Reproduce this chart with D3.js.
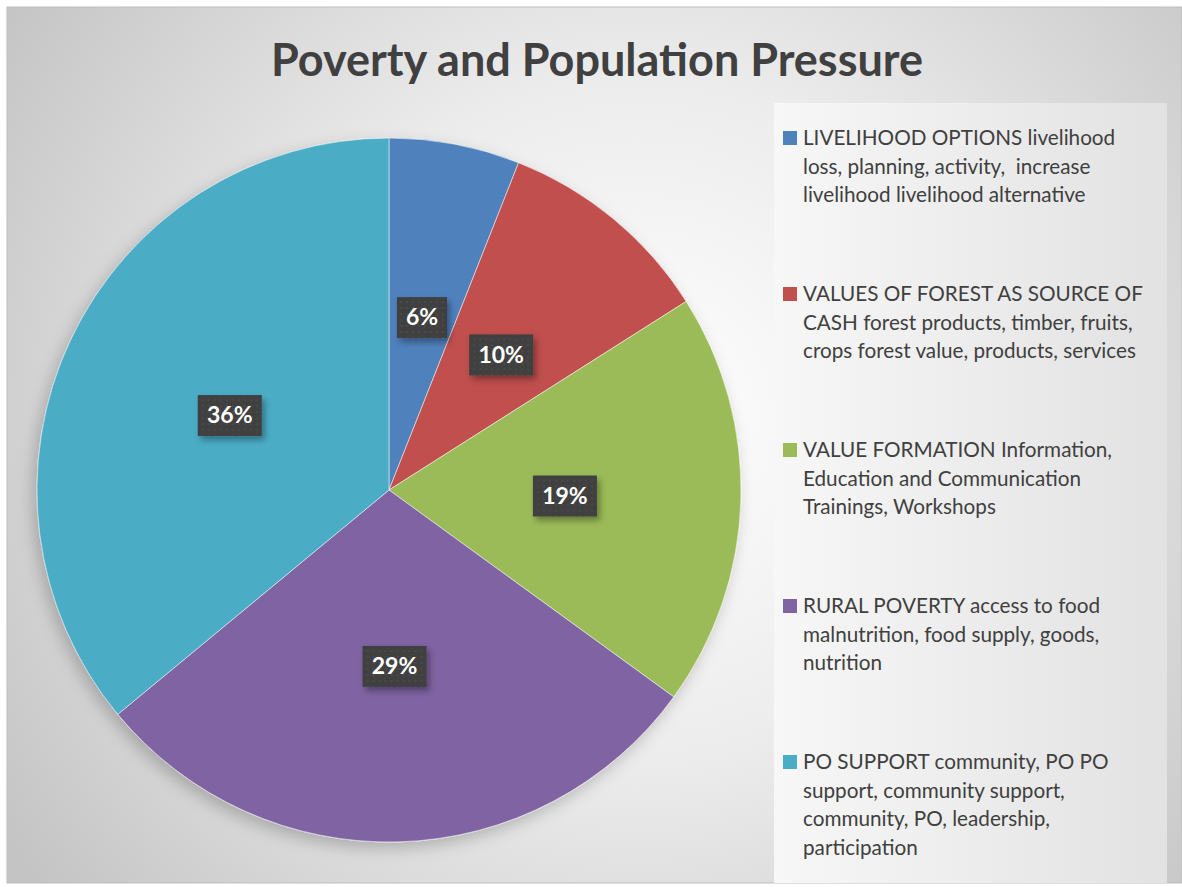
<!DOCTYPE html>
<html>
<head>
<meta charset="utf-8">
<script src="https://cdnjs.cloudflare.com/ajax/libs/d3/7.8.5/d3.min.js"></script>
<style>
  body { margin: 0; background: #fff; }
  svg text { font-family: Lato, "Open Sans", sans-serif; }
</style>
</head>
<body>
<div id="chart"></div>
<script>
// chart data
var categories = ["LIVELIHOOD OPTIONS", "VALUES OF FOREST AS SOURCE OF CASH", "VALUE FORMATION", "RURAL POVERTY", "PO SUPPORT"];
var values = [6, 10, 19, 29, 36];
var colors = ["#4F81BD", "#C0504D", "#9BBB59", "#8064A2", "#4BACC6"];
var legendLines = [
  ["LIVELIHOOD OPTIONS livelihood", "loss, planning, activity,  increase", "livelihood livelihood alternative"],
  ["VALUES OF FOREST AS SOURCE OF", "CASH forest products, timber, fruits,", "crops forest value, products, services"],
  ["VALUE FORMATION Information,", "Education and Communication", "Trainings, Workshops"],
  ["RURAL POVERTY access to food", "malnutrition, food supply, goods,", "nutrition"],
  ["PO SUPPORT community, PO PO", "support, community support,", "community, PO, leadership,", "participation"]
];
var title = "Poverty and Population Pressure";

function main() {
  var width = 1182, height = 887;
  var cx = 389, cy = 490, radius = 352;

  var svg = d3.select("#chart").append("svg")
    .attr("width", width)
    .attr("height", height);

  var defs = svg.append("defs");

  // background gradient
  var bg = defs.append("radialGradient").attr("id", "bgGrad")
    .attr("gradientUnits", "userSpaceOnUse")
    .attr("cx", 640).attr("cy", 420).attr("r", 760);
  bg.append("stop").attr("offset", "0%").attr("stop-color", "#ffffff");
  bg.append("stop").attr("offset", "45%").attr("stop-color", "#ececec");
  bg.append("stop").attr("offset", "100%").attr("stop-color", "#c4c4c4");

  var lg = defs.append("linearGradient").attr("id", "legGrad")
    .attr("x1", "0%").attr("y1", "0%").attr("x2", "100%").attr("y2", "0%");
  lg.append("stop").attr("offset", "0%").attr("stop-color", "#f7f7f7");
  lg.append("stop").attr("offset", "100%").attr("stop-color", "#e2e2e2");

  // pie shadow
  var sh = defs.append("filter").attr("id", "pieShadow")
    .attr("x", "-20%").attr("y", "-20%").attr("width", "140%").attr("height", "140%");
  sh.append("feDropShadow").attr("dx", -4).attr("dy", 6).attr("stdDeviation", 8)
    .attr("flood-color", "#000").attr("flood-opacity", 0.22);

  var lsh = defs.append("filter").attr("id", "lblShadow")
    .attr("x", "-30%").attr("y", "-30%").attr("width", "170%").attr("height", "170%");
  lsh.append("feDropShadow").attr("dx", 3).attr("dy", 4).attr("stdDeviation", 3)
    .attr("flood-color", "#000").attr("flood-opacity", 0.35);

  // dotted texture for label boxes
  var pat = defs.append("pattern").attr("id", "dots")
    .attr("width", 6).attr("height", 6).attr("patternUnits", "userSpaceOnUse");
  pat.append("rect").attr("width", 6).attr("height", 6).attr("fill", "#3f3f3f");
  pat.append("circle").attr("cx", 3).attr("cy", 3).attr("r", 1.2).attr("fill", "#4a4a4a");

  svg.append("rect")
    .attr("x", 7).attr("y", 7).attr("width", width - 7).attr("height", 876)
    .attr("fill", "url(#bgGrad)")
    .attr("stroke", "#bdbdbd").attr("stroke-width", 1);

  svg.append("text")
    .attr("x", 597).attr("y", 76)
    .attr("text-anchor", "middle")
    .attr("font-size", 45).attr("font-weight", "bold")
    .attr("fill", "#404040")
    .text(title);

  // pie
  var pie = d3.pie().sort(null).value(d => d);
  var arcs = pie(values);
  var arc = d3.arc().innerRadius(0).outerRadius(radius);

  var g = svg.append("g").attr("transform", "translate(" + cx + "," + cy + ")");

  g.append("g").attr("filter", "url(#pieShadow)")
    .selectAll("path")
    .data(arcs)
    .enter().append("path")
    .attr("d", arc)
    .attr("fill", (d, i) => colors[i])
    .attr("stroke", "#ffffff")
    .attr("stroke-opacity", 0.5)
    .attr("stroke-width", 1);

  var fmt = d3.format(".0%");
  var total = d3.sum(values);
  var labels = g.selectAll(".lbl")
    .data(arcs)
    .enter().append("g")
    .attr("class", "lbl")
    .attr("transform", d => "translate(" + arc.centroid(d) + ")");

  labels.each(function(d) {
    var txt = fmt(d.value / total);
    var w = txt.length > 2 ? 64 : 50;
    var sel = d3.select(this);
    sel.append("rect")
      .attr("x", -w / 2).attr("y", -20).attr("width", w).attr("height", 41)
      .attr("fill", "url(#dots)")
      .attr("filter", "url(#lblShadow)");
    sel.append("text")
      .attr("text-anchor", "middle")
      .attr("dy", "0.36em")
      .attr("font-size", 23).attr("font-weight", "bold")
      .attr("fill", "#ffffff")
      .text(txt);
  });

  // legend
  svg.append("rect")
    .attr("x", 774).attr("y", 103).attr("width", 393).attr("height", 780)
    .attr("fill", "url(#legGrad)");

  var lineH = 28.5, itemStep = 156, firstY = 145;
  var items = svg.selectAll(".leg")
    .data(categories)
    .enter().append("g")
    .attr("class", "leg")
    .attr("transform", (d, i) => "translate(0," + (firstY + i * itemStep) + ")");

  items.append("rect")
    .attr("x", 783).attr("y", -14).attr("width", 14).attr("height", 14)
    .attr("fill", (d, i) => colors[i]);

  items.append("text")
    .attr("x", 803)
    .attr("font-size", 20.7)
    .attr("fill", "#404040")
    .style("white-space", "pre")
    .selectAll("tspan")
    .data((d, i) => legendLines[i])
    .enter().append("tspan")
    .attr("x", 803)
    .attr("dy", (d, j) => j === 0 ? 0 : lineH)
    .text(d => d);
}

main();
</script>
</body>
</html>
